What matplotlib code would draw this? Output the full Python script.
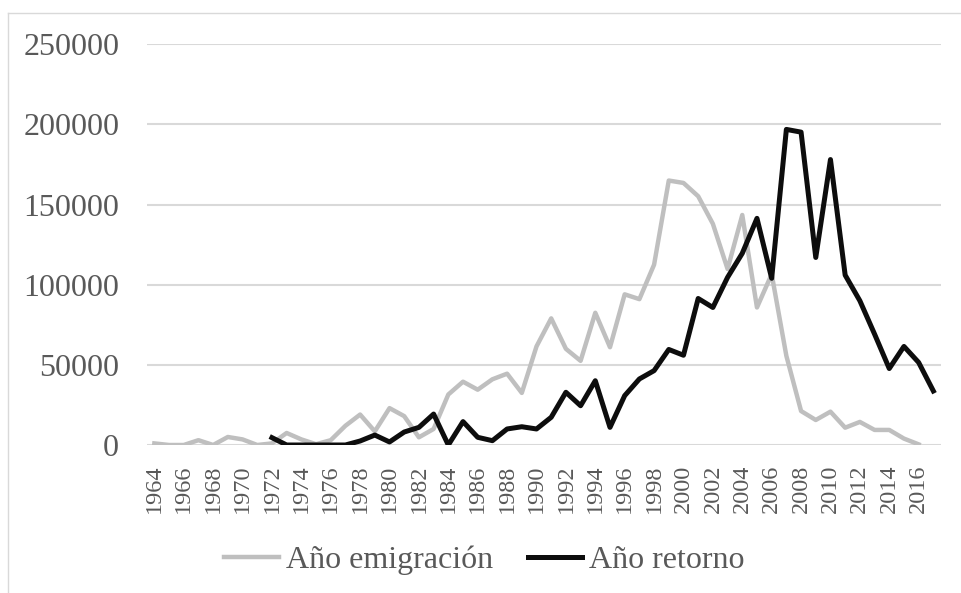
import numpy as np
import matplotlib
matplotlib.use("Agg")
import matplotlib.pyplot as plt
from matplotlib.lines import Line2D

plt.rcParams['font.family'] = ['Liberation Serif', 'DejaVu Serif']

years_emig = list(range(1964, 2017))
emigracion = [1000, 0, 0, 3000, 0, 5000, 3500, 0, 1000, 7500,
              3500, 500, 3000, 12000, 19000, 8500, 23000, 18000, 4800, 10000,
              31500, 39500, 34500, 41000, 44500, 32500, 61500, 79000, 60000, 52500,
              82500, 61000, 94000, 91000, 112500, 165000, 163500, 155200, 138000, 109800,
              143500, 85800, 106600, 55600, 21200, 15600, 20800, 10800, 14400, 9400,
              9400, 4000, 400]

years_ret = list(range(1972, 2018))
retorno = [4600, 0, 0, 0, 0, 0, 2500, 6200, 1900, 8100,
           11000, 19300, 0, 14600, 4800, 2700, 10000, 11400, 10000, 17300,
           32900, 24500, 40100, 11000, 30800, 41200, 46400, 59600, 56000, 91400,
           85800, 104600, 119600, 141400, 104000, 196900, 195200, 117000, 178100, 106000,
           90000, 69200, 47700, 61500, 51500, 33700]

tick_years = list(range(1964, 2017, 2))
y_ticks = [0, 50000, 100000, 150000, 200000, 250000]

label_emig = "Año emigración"
label_ret = "Año retorno"

W, H = 961, 593
fig = plt.figure(figsize=(W / 100, H / 100), dpi=100)
ax = fig.add_axes([147 / W, (H - 445) / H, (940.7 - 147) / W, (445 - 44.3) / H])

grey = '#BFBFBF'
black = '#0D0D0D'
txt = '#595959'

ax.plot(years_emig, emigracion, color=grey, lw=3.2, solid_joinstyle='round', zorder=3)
ax.plot(years_ret, retorno, color=black, lw=3.6, solid_joinstyle='round', zorder=4)

ax.set_xlim(1963.5, 2017.5)
ax.set_ylim(0, 250000)
ax.set_yticks(y_ticks)
ax.set_yticklabels([str(v) for v in y_ticks], fontsize=23, color=txt)
ax.set_xticks(tick_years)
ax.set_xticklabels([str(y) for y in tick_years], rotation=90, fontsize=17.5, color=txt)
ax.tick_params(axis='y', length=0, pad=20)
ax.tick_params(axis='x', length=0, pad=14)
ax.grid(axis='y', color='#D9D9D9', lw=1.5, zorder=0)
ax.set_axisbelow(True)
for s in ax.spines.values():
    s.set_visible(False)

# outer chart border (top and left visible)
fig.add_artist(Line2D([8 / W, 1.0], [(H - 13) / H, (H - 13) / H], color='#D9D9D9', lw=1.0, transform=fig.transFigure))
fig.add_artist(Line2D([8 / W, 8 / W], [0, (H - 13) / H], color='#D9D9D9', lw=1.0, transform=fig.transFigure))

handles = [Line2D([], [], color=grey, lw=3.2), Line2D([], [], color=black, lw=3.6)]
leg = fig.legend(handles, [label_emig, label_ret], loc='center', bbox_to_anchor=(484.5 / W, (H - 560) / H),
                 ncol=2, frameon=False, fontsize=23, handlelength=1.7, handletextpad=0.22,
                 columnspacing=1.1, labelcolor=txt)

fig.savefig('out.png', dpi=100, facecolor='white')
